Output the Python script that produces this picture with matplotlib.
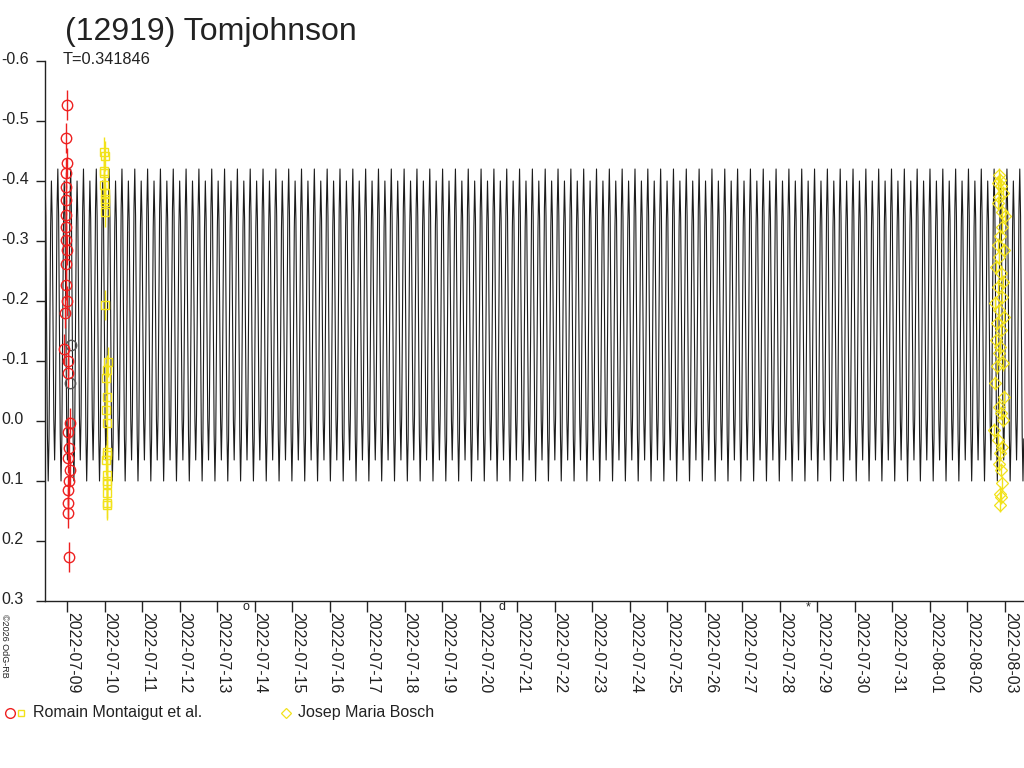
import numpy as np
import matplotlib
matplotlib.use("Agg")
import matplotlib.pyplot as plt
import matplotlib.dates as mdates
from matplotlib.transforms import ScaledTranslation, blended_transform_factory
from datetime import datetime, timedelta

# ---------------- data ----------------
title = "(12919) Tomjohnson"
period_label = "T=0.341846"
period_days = 0.341846

# model light-curve shape over one rotation (16 phase steps), magnitude
model_shape = [-0.420, -0.341, -0.159, 0.022, 0.100, 0.030, -0.145, -0.322,
               -0.400, -0.336, -0.169, -0.002, 0.065, -0.010, -0.183, -0.354]
model_start = "2022-07-08 09:56"
model_end = "2022-08-03 12:10"

ref_date = "2022-07-09"   # offsets below are in days after this date

# Romain Montaigut et al. (circles, red)
red_dt = [-0.013, -0.027, -0.013, -0.030, -0.030, -0.030, -0.030, -0.030, -0.030,
          0.000, -0.030, -0.030, -0.009, -0.045, -0.070, 0.027, 0.027,
          0.070, 0.040, 0.053, 0.040, 0.070, 0.053, 0.040, 0.040, 0.040, 0.053]
red_mag = [-0.527, -0.472, -0.430, -0.413, -0.390, -0.368, -0.343, -0.323, -0.302,
           -0.285, -0.262, -0.227, -0.200, -0.180, -0.120, -0.100, -0.080,
           0.003, 0.018, 0.045, 0.062, 0.082, 0.100, 0.115, 0.137, 0.153, 0.227]
red_err = 0.025

# Romain Montaigut et al. (circles, grey)
grey_dt = [0.100, 0.080]
grey_mag = [-0.127, -0.063]

# Romain Montaigut et al. (squares, yellow)
sq_dt = [0.986, 1.013, 0.986, 0.986, 0.986, 1.013, 1.013, 1.013, 1.013, 1.013,
         1.093, 1.066, 1.039, 1.066, 1.039, 1.066, 1.066, 1.066, 1.039, 1.066,
         1.066, 1.066, 1.066, 1.066, 1.066]
sq_mag = [-0.448, -0.442, -0.417, -0.413, -0.393, -0.380, -0.370, -0.365, -0.348, -0.193,
          -0.098, -0.085, -0.072, -0.040, -0.018, 0.003, 0.052, 0.057, 0.065, 0.090,
          0.100, 0.105, 0.120, 0.137, 0.140]
sq_err = 0.025

# Josep Maria Bosch (diamonds, yellow)
dia_dt = [24.840, 24.867, 24.813, 24.893, 24.947, 24.840, 24.813, 24.920, 25.000, 24.920,
          24.867, 24.813, 24.973, 24.840, 24.760, 24.893, 24.947, 24.813, 24.920, 24.733,
          24.840, 24.973, 24.787, 24.893, 24.760, 24.867, 24.840, 24.947, 24.787, 24.733,
          24.973, 24.840, 24.893, 24.947, 24.707, 24.813, 24.920, 24.867, 24.840, 24.893,
          24.920, 24.867, 24.893, 24.867]
dia_mag = [-0.410, -0.402, -0.396, -0.391, -0.380, -0.374, -0.363, -0.349, -0.341, -0.324,
           -0.308, -0.293, -0.285, -0.274, -0.257, -0.246, -0.232, -0.224, -0.207, -0.196,
           -0.185, -0.174, -0.163, -0.152, -0.135, -0.124, -0.113, -0.096, -0.091, -0.063,
           -0.040, -0.024, -0.013, -0.002, 0.015, 0.032, 0.043, 0.054, 0.071, 0.082,
           0.104, 0.121, 0.127, 0.140]
dia_err = 0.012

# moon phases shown under the axis
moon_dates = ["2022-07-13 18:37", "2022-07-20 14:18", "2022-07-28 17:55"]
moon_symbols = ["o", "d", "*"]

x_min = "2022-07-08 09:56"
x_max = "2022-08-03 12:10"
tick_first = "2022-07-09"
tick_last = "2022-08-03"
y_ticks = [-0.6, -0.5, -0.4, -0.3, -0.2, -0.1, 0.0, 0.1, 0.2, 0.3]
y_tick_labels = ["-0.6", "-0.5", "-0.4", "-0.3", "-0.2", "-0.1", "0.0", "0.1", "0.2", "0.3"]

legend1 = "Romain Montaigut et al."
legend2 = "Josep Maria Bosch"
credit = "\u00a92026 OdG-RB"

# ---------------- figure ----------------
plt.rcParams["font.family"] = ["Liberation Sans", "DejaVu Sans"]
W, H = 1024, 768
fig = plt.figure(figsize=(W / 100, H / 100), dpi=100)
fig.patch.set_facecolor("white")


def px_axes(l, t, r, b):
    return [l / W, 1 - b / H, (r - l) / W, (b - t) / H]


ax = fig.add_axes(px_axes(45, 61, 1024, 601))
ax.set_facecolor("white")

ref = mdates.date2num(datetime.fromisoformat(ref_date))


def dnum(s):
    return mdates.date2num(datetime.fromisoformat(s))


# model curve (shape repeated every period)
t0 = dnum(model_start)
t1 = dnum(model_end)
n_cyc = int(np.ceil((t1 - t0) / period_days)) + 1
nph = len(model_shape)
k = np.arange(n_cyc * nph)
mt = t0 + (k // nph + (k % nph) / nph) * period_days
mm = np.tile(model_shape, n_cyc)
keep = mt <= t1
ax.plot(mt[keep], mm[keep], color="#1c1c1c", lw=0.8, zorder=2, clip_on=True)

RED = "#ee2020"
YEL = "#f2e21a"

# data
ax.errorbar(ref + np.array(red_dt), red_mag, yerr=red_err, fmt="o", ms=7.5,
            mfc="none", mec=RED, ecolor=RED, mew=1.0, elinewidth=1.0, capsize=0, zorder=3)
ax.plot(ref + np.array(grey_dt), grey_mag, "o", ms=7.5, mfc="none", mec="#555555",
        mew=1.0, zorder=3)
ax.errorbar(ref + np.array(sq_dt), sq_mag, yerr=sq_err, fmt="s", ms=5.5,
            mfc="none", mec=YEL, ecolor=YEL, mew=1.0, elinewidth=1.0, capsize=0, zorder=3)
ax.errorbar(ref + np.array(dia_dt), dia_mag, yerr=dia_err, fmt="D", ms=6,
            mfc="none", mec=YEL, ecolor=YEL, mew=0.9, elinewidth=1.0, capsize=0, zorder=3)

ax.set_xlim(dnum(x_min), dnum(x_max))
ax.set_ylim(0.3, -0.6)

for s in ("top", "right"):
    ax.spines[s].set_visible(False)
for s in ("left", "bottom"):
    ax.spines[s].set_color("#222222")
    ax.spines[s].set_linewidth(1.0)

# y ticks
ax.set_yticks(y_ticks)
ax.set_yticklabels(y_tick_labels, ha="left", fontsize=11.5, color="#222222")
ax.tick_params(axis="y", direction="out", length=6.5, width=1, color="#222222", pad=25)
for lab in ax.get_yticklabels():
    lab.set_transform(lab.get_transform() + ScaledTranslation(0, 3 / 100, fig.dpi_scale_trans))

# x ticks (daily)
xt = np.arange(dnum(tick_first), dnum(tick_last) + 0.5, 1.0)
ax.set_xticks(xt)
ax.xaxis.set_major_formatter(mdates.DateFormatter("%Y-%m-%d"))
ax.tick_params(axis="x", direction="out", length=8, width=1, color="#222222", pad=0,
               labelsize=11.5, labelcolor="#222222")
for lab in ax.get_xticklabels():
    lab.set_rotation(-90)
    lab.set_ha("left")
    lab.set_va("top")
    lab.set_transform(lab.get_transform() + ScaledTranslation(-2 / 100, 0, fig.dpi_scale_trans))

# moon phases
btr = blended_transform_factory(ax.transData, ax.transAxes)
for d, sym in zip(moon_dates, moon_symbols):
    ax.text(dnum(d), -0.011, sym, transform=btr, ha="center", va="center",
            fontsize=9, color="#222222", clip_on=False)

# titles
fig.text(65 / W, 1 - 40 / H, title, fontsize=23, color="#222222", va="baseline", ha="left")
fig.text(63 / W, 1 - 64 / H, period_label, fontsize=11.8, color="#222222", va="baseline", ha="left")
fig.text(4 / W, 1 - 614 / H, credit, fontsize=6.5, rotation=-90, ha="center", va="top",
         color="#222222")

# legend (overlay in pixel units)
ov = fig.add_axes([0, 0, 1, 1])
ov.set_xlim(0, W)
ov.set_ylim(H, 0)
ov.axis("off")
ov.patch.set_alpha(0)
ov.plot([10], [713], "o", ms=7, mfc="none", mec=RED, mew=1.0)
ov.plot([21], [713], "s", ms=5, mfc="none", mec=YEL, mew=1.0)
ov.text(33, 713, legend1, fontsize=11.5, color="#222222", va="center", ha="left")
ov.plot([286], [713], "D", ms=5.5, mfc="none", mec=YEL, mew=0.9)
ov.text(298, 713, legend2, fontsize=11.5, color="#222222", va="center", ha="left")

fig.savefig("out.png", dpi=100, facecolor="white")
